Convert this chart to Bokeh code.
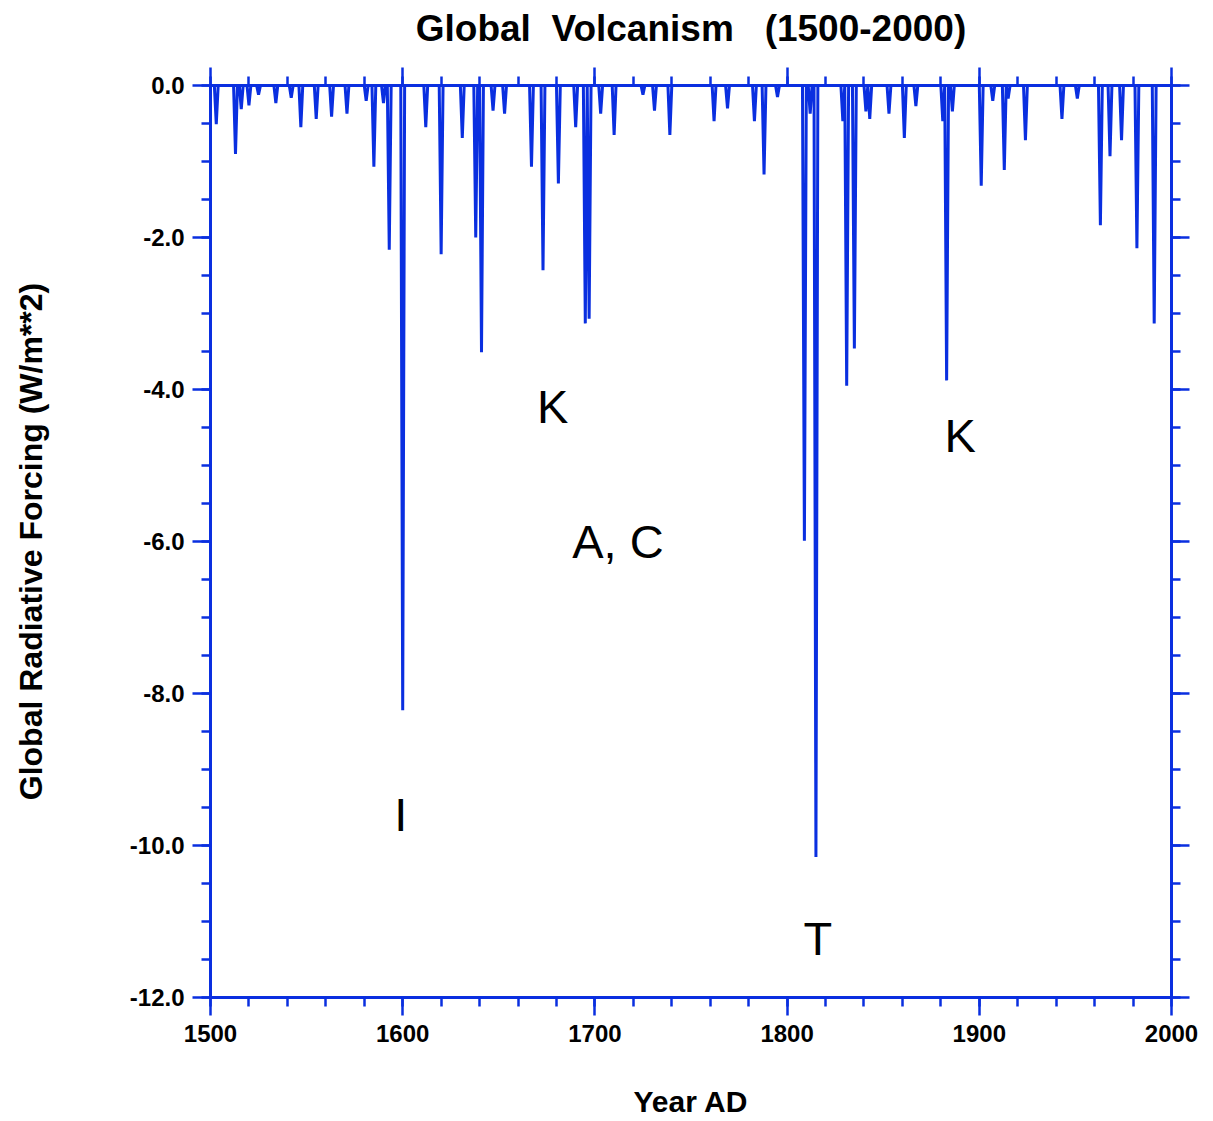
from bokeh.plotting import figure
from bokeh.models import (Range1d, LinearAxis, FixedTicker, PrintfTickFormatter,
                          CustomJSTickFormatter, ColumnDataSource)
from bokeh.embed import file_html
from bokeh.resources import INLINE
from bokeh.core.properties import value

# ---- data: eruption years and their global radiative forcing (W/m**2) ----
eruption_years = [1503, 1513, 1516, 1520, 1525, 1534, 1542, 1547, 1555, 1563,
                  1571, 1581, 1585, 1590, 1593, 1600, 1612, 1620, 1631, 1638,
                  1641, 1647, 1653, 1667, 1673, 1681, 1690, 1695, 1697, 1703,
                  1710, 1725, 1731, 1739, 1762, 1769, 1783, 1788, 1795, 1809,
                  1812, 1815, 1829, 1831, 1835, 1841, 1843, 1853, 1861, 1867,
                  1881, 1883, 1886, 1901, 1907, 1913, 1915, 1924, 1943, 1951,
                  1963, 1968, 1974, 1982, 1991]
eruption_forcing = [-0.51, -0.90, -0.31, -0.26, -0.12, -0.23, -0.16, -0.55, -0.44, -0.41,
                    -0.37, -0.20, -1.07, -0.23, -2.16, -8.22, -0.55, -2.22, -0.69, -2.00,
                    -3.51, -0.33, -0.37, -1.07, -2.43, -1.29, -0.55, -3.13, -3.07, -0.37,
                    -0.65, -0.12, -0.33, -0.65, -0.47, -0.30, -0.47, -1.17, -0.15, -5.99,
                    -0.37, -10.15, -0.47, -3.95, -3.46, -0.34, -0.44, -0.37, -0.69, -0.27,
                    -0.47, -3.88, -0.34, -1.32, -0.20, -1.11, -0.17, -0.72, -0.44, -0.17,
                    -1.84, -0.93, -0.72, -2.14, -3.13]
first_year = 1500
last_year = 2000

x_major_ticks = [1500, 1600, 1700, 1800, 1900, 2000]
x_minor_ticks = list(range(1500, 2001, 20))
y_major_ticks = [0, -2, -4, -6, -8, -10, -12]
y_minor_ticks = [v * 0.5 for v in range(0, -25, -1)]

note_text = ["K", "A, C", "I", "T", "K"]
note_year = [1678, 1712, 1599, 1816, 1890]
note_forcing = [-4.22, -6.0, -9.59, -11.22, -4.61]

title_text = "Global \u00a0Volcanism \u00a0 (1500-2000)"

# annual series: zero forcing in years without an eruption
years = list(range(first_year, last_year + 1))
forcing = [0.0] * len(years)
for yr, f in zip(eruption_years, eruption_forcing):
    forcing[yr - first_year] = f

BLUE = "#0A2FE0"
FONT = "Liberation Sans"

p = figure(width=1205, height=1120,
           x_range=Range1d(first_year, last_year), y_range=Range1d(-12, 0),
           output_backend="svg", toolbar_location=None,
           x_axis_location=None, y_axis_location=None,
           min_border_left=210, min_border_right=34,
           min_border_top=85, min_border_bottom=123)
p.grid.visible = False
p.outline_line_color = None
p.background_fill_color = "white"
p.border_fill_color = "white"

p.line(years, forcing, line_color=BLUE, line_width=3)

src = ColumnDataSource(dict(x=note_year, y=note_forcing, t=note_text))
p.text(x="x", y="y", text="t", source=src, text_font=value(FONT),
       text_font_size="47px", text_color="black",
       text_align="center", text_baseline="middle")

def style(ax, labels=True):
    ax.axis_line_color = BLUE
    ax.axis_line_width = 3
    ax.major_tick_line_color = BLUE
    ax.major_tick_line_width = 2.5
    ax.minor_tick_line_color = BLUE
    ax.minor_tick_line_width = 2.5
    ax.major_tick_out = 18
    ax.major_tick_in = 0
    ax.minor_tick_out = 9
    ax.minor_tick_in = 0
    ax.major_label_text_font = FONT
    ax.major_label_text_font_style = "bold"
    ax.major_label_text_font_size = "24px"
    ax.major_label_text_color = "black"
    ax.axis_label_text_font = FONT
    ax.axis_label_text_font_style = "bold"
    ax.axis_label_text_color = "black"
    if not labels:
        ax.formatter = CustomJSTickFormatter(code="return ''")
        ax.major_label_standoff = 0

xt = FixedTicker(ticks=x_major_ticks, minor_ticks=x_minor_ticks)
yt = FixedTicker(ticks=y_major_ticks, minor_ticks=y_minor_ticks)

xb = LinearAxis(ticker=xt, axis_label="Year AD")
style(xb)
xb.major_label_standoff = 9
xb.axis_label_text_font_size = "30px"
xb.axis_label_standoff = 40
p.add_layout(xb, "below")

yl = LinearAxis(ticker=yt, formatter=PrintfTickFormatter(format="%.1f"),
                axis_label="Global Radiative Forcing (W/m**2)")
style(yl)
yl.major_label_standoff = 8
yl.axis_label_text_font_size = "32px"
yl.axis_label_standoff = 78
p.add_layout(yl, "left")

# top axis carries the chart title as its label
xa = LinearAxis(ticker=xt, axis_label=title_text)
style(xa, labels=False)
xa.axis_label_text_font_size = "37px"
xa.axis_label_standoff = 19
p.add_layout(xa, "above")

yr_ax = LinearAxis(ticker=yt)
style(yr_ax, labels=False)
p.add_layout(yr_ax, "right")

open("out.html", "w").write(file_html(p, INLINE))
